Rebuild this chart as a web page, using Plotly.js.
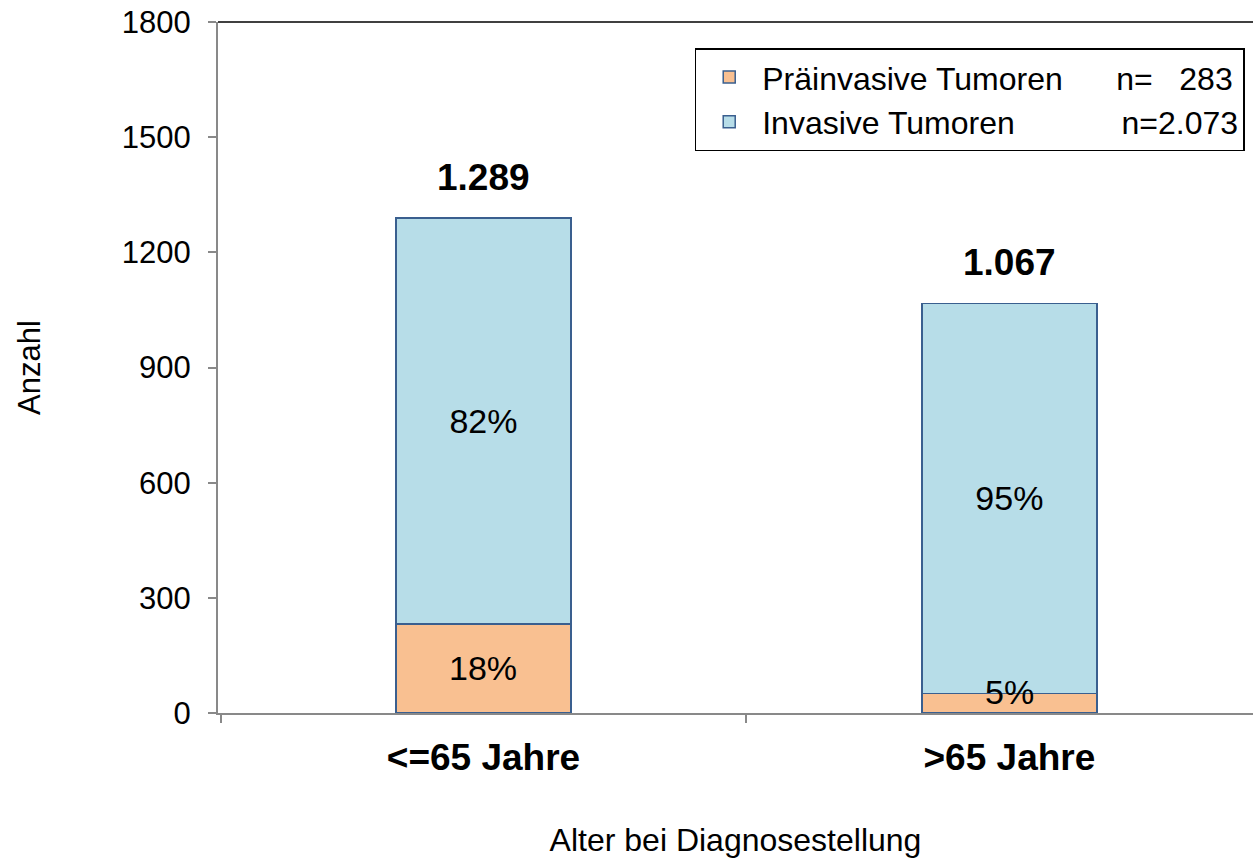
<!DOCTYPE html>
<html>
<head>
<meta charset="utf-8">
<script src="https://cdn.plot.ly/plotly-3.0.1.min.js"></script>
<style>
  html, body { margin: 0; padding: 0; background: #fff; }
  #chart { width: 1253px; height: 858px; }
</style>
</head>
<body>
<div id="chart"></div>
<script>
// ---- data ----
const categories = ["<=65 Jahre", ">65 Jahre"];
const praeinvasive = [232, 51];
const invasive = [1057, 1016];
const seriesNames = ["Präinvasive Tumoren", "Invasive Tumoren"];
const seriesTotals = [283, 2073];
const yTickVals = [0, 300, 600, 900, 1200, 1500, 1800];

// ---- helpers ----
function deNum(n) {
  return String(n).replace(/\B(?=(\d{3})+(?!\d))/g, ".");
}
const NB = "\u00a0";
const totals = categories.map((c, i) => praeinvasive[i] + invasive[i]);
const pct = (arr) => arr.map((v, i) => Math.round(100 * v / totals[i]) + "%");

const FONT = "Liberation Sans, Arial, sans-serif";
const lineCol = "#3A5F8F";
const W = 1253, H = 858;
const M = { l: 218, r: 0, t: 22, b: 145 };
const yMax = 1800;
const pxPerUnit = (H - M.t - M.b) / yMax;
const pctFont = 34;
const labelBoxH = 46;

const legendLabels = [
  seriesNames[0] + NB.repeat(6) + "n=" + NB.repeat(3) + deNum(seriesTotals[0]),
  seriesNames[1] + NB.repeat(12) + "n=" + deNum(seriesTotals[1])
];

const traces = [
  {
    type: "bar",
    name: legendLabels[0],
    x: categories,
    y: praeinvasive,
    width: 0.333,
    marker: { color: "#F9C091", line: { color: lineCol, width: 1.5 } },
    textposition: "none",
    hoverinfo: "x+y"
  },
  {
    type: "bar",
    name: legendLabels[1],
    x: categories,
    y: invasive,
    width: 0.333,
    marker: { color: "#B7DDE8", line: { color: lineCol, width: 1.5 } },
    text: pct(invasive),
    textposition: "inside",
    insidetextanchor: "middle",
    constraintext: "none",
    textangle: 0,
    textfont: { family: FONT, size: pctFont, color: "#000" },
    hoverinfo: "x+y"
  }
];

// percentage labels of the lower segment (kept inside the plot area when the segment is too thin)
const praeLabels = pct(praeinvasive);
const praeAnn = categories.map((c, i) => {
  const fits = praeinvasive[i] * pxPerUnit >= labelBoxH;
  return {
    x: c, xref: "x", yref: "y",
    y: fits ? praeinvasive[i] / 2 : 0,
    yanchor: fits ? "middle" : "bottom",
    text: praeLabels[i],
    showarrow: false,
    font: { family: FONT, size: pctFont, color: "#000" }
  };
});

const totalAnn = categories.map((c, i) => ({
  x: c,
  y: totals[i],
  xref: "x",
  yref: "y",
  text: "<b>" + deNum(totals[i]) + "</b>",
  showarrow: false,
  yanchor: "middle",
  yshift: 41,
  font: { family: FONT, size: 37, color: "#000" }
}));

const layout = {
  width: W,
  height: H,
  margin: { l: M.l, r: M.r, t: M.t, b: M.b, pad: 0 },
  paper_bgcolor: "#fff",
  plot_bgcolor: "#fff",
  barmode: "stack",
  font: { family: FONT, color: "#000" },
  showlegend: true,
  legend: {
    x: 0.992, xanchor: "right",
    y: 0.962, yanchor: "top",
    traceorder: "normal",
    bgcolor: "#fff",
    bordercolor: "#000",
    borderwidth: 1.5,
    font: { family: FONT, size: 32, color: "#000" },
    itemwidth: 56
  },
  xaxis: {
    type: "category",
    range: [-0.5048, 1.4632],
    showline: true,
    linecolor: "#898989",
    linewidth: 2,
    ticks: "outside",
    tickson: "boundaries",
    ticklen: 8,
    tickwidth: 2,
    tickcolor: "#898989",
    ticklabelstandoff: 11,
    tickfont: { family: FONT, size: 37, color: "#000", weight: "bold" },
    showgrid: false,
    zeroline: false,
    fixedrange: true,
    title: {
      text: "Alter bei Diagnosestellung",
      font: { family: FONT, size: 32, color: "#000" },
      standoff: 53
    }
  },
  yaxis: {
    range: [0, yMax],
    tickvals: yTickVals,
    ticktext: yTickVals.map(String),
    showline: true,
    linecolor: "#898989",
    linewidth: 2,
    ticks: "outside",
    ticklen: 8,
    tickwidth: 2,
    tickcolor: "#898989",
    ticklabelstandoff: 11,
    tickfont: { family: FONT, size: 31, color: "#000" },
    showgrid: false,
    zeroline: false,
    fixedrange: true,
    title: {
      text: "Anzahl",
      font: { family: FONT, size: 31, color: "#000" },
      standoff: 72
    }
  },
  shapes: [
    {
      type: "line", xref: "paper", yref: "paper",
      x0: 0, x1: 1, y0: 1, y1: 1,
      line: { color: "#000", width: 1.5 }
    }
  ],
  annotations: praeAnn.concat(totalAnn)
};

Plotly.newPlot("chart", traces, layout, { displayModeBar: false, responsive: false });
</script>
</body>
</html>
